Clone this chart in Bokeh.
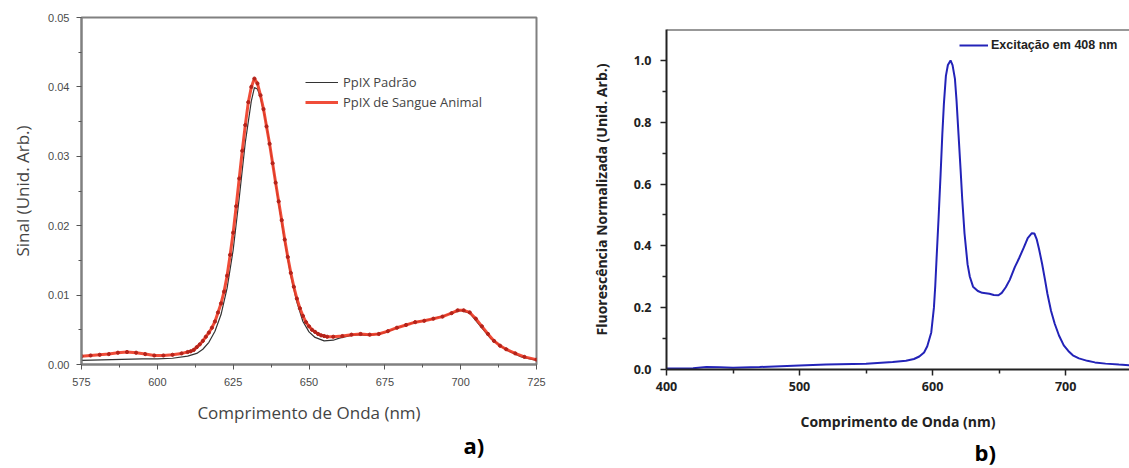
from bokeh.plotting import figure
from bokeh.layouts import row, column
from bokeh.models import (Legend, LegendItem, Span, FixedTicker, Range1d, Title,
                          NumeralTickFormatter)
from bokeh.embed import file_html
from bokeh.resources import INLINE

# ---------------- panel a) data ----------------
std_x = [575, 585, 595, 600, 605, 610, 613, 615, 617, 619, 621, 623, 625, 627, 629, 631, 632, 633,
         634, 636, 638, 640, 642, 644, 646, 648, 650, 652, 655, 658, 660, 665, 670, 675, 680, 685,
         690, 695, 700, 703, 706, 710, 715, 720, 725]
std_y = [0.0006, 0.0007, 0.0008, 0.0008, 0.0009, 0.0012, 0.0016, 0.0022, 0.0032, 0.0048, 0.0072,
         0.0110, 0.0165, 0.0240, 0.0320, 0.0380, 0.0399, 0.0397, 0.0385, 0.0345, 0.0290, 0.0232,
         0.0177, 0.0128, 0.0090, 0.0062, 0.0047, 0.0039, 0.0034, 0.0035, 0.0038, 0.0043, 0.0042,
         0.0046, 0.0054, 0.0061, 0.0065, 0.0071, 0.0078, 0.0074, 0.0058, 0.0037, 0.0021, 0.0011,
         0.0006]

blood_x = [575, 578, 581, 584, 587, 590, 593, 596, 599, 602, 605, 608, 610, 611,
           612, 613, 614, 615, 616, 617, 618, 619, 620, 621, 622, 623, 624, 625, 626, 627, 628,
           629, 630, 631, 632, 633, 634, 635, 636, 637, 638, 639, 640, 641, 642, 643, 644, 645,
           646, 647, 648, 649, 650, 651, 652, 653, 654, 655, 656,
           658, 661, 664, 667, 670, 673, 676, 679, 682, 685, 688, 691, 694, 697, 699, 701, 703,
           705, 707, 709, 711, 713, 715, 718, 721, 725]
blood_y = [0.0012, 0.0013, 0.0014, 0.0015, 0.0017, 0.0018, 0.0017, 0.0015, 0.0013, 0.0013, 0.0014,
           0.0016, 0.0018, 0.0019,
           0.0021, 0.0025, 0.0029, 0.0034, 0.0040, 0.0046, 0.0053, 0.0062, 0.0075, 0.0088, 0.0105,
           0.0128, 0.0158, 0.0190, 0.0228, 0.0268, 0.0308, 0.0345, 0.0378, 0.0400, 0.0412, 0.0405,
           0.0388, 0.0368, 0.0343, 0.0318, 0.0290, 0.0262, 0.0235, 0.0208, 0.0180, 0.0155, 0.0132,
           0.0112, 0.0095, 0.0081, 0.0070, 0.0061, 0.0055, 0.0050, 0.0047, 0.0044, 0.0042, 0.0041,
           0.0040,
           0.0040, 0.0041, 0.0043, 0.0044, 0.0043, 0.0044, 0.0048, 0.0053, 0.0057, 0.0061, 0.0063,
           0.0066, 0.0069, 0.0074, 0.0078, 0.0078, 0.0075, 0.0066, 0.0055, 0.0044, 0.0034, 0.0027,
           0.0022, 0.0016, 0.0011, 0.0007]

a_xticks = [575, 600, 625, 650, 675, 700, 725]
a_yticks = [0.00, 0.01, 0.02, 0.03, 0.04, 0.05]

# ---------------- panel b) data ----------------
exc_x = [400, 410, 420, 430, 440, 450, 470, 500, 520, 550, 570, 580, 586, 590, 593.6, 596, 599,
         601, 602, 603, 604.5, 606, 607.3, 608.5, 610, 611.5, 613.5, 615, 616.8, 618, 619.5, 621,
         622.3, 624, 626.3, 628, 630.4, 634, 637.3, 640, 642.7, 646, 649.5, 652, 655, 658, 661.8,
         665, 668.6, 671.5, 674.6, 676.5, 678.2, 680, 682.3, 684.5, 686.3, 689, 691.8, 695, 698.6,
         702, 705.4, 710, 716.3, 722, 730, 740, 748]
exc_y = [0.003, 0.003, 0.004, 0.008, 0.007, 0.006, 0.008, 0.013, 0.016, 0.019, 0.024, 0.028, 0.034,
         0.042, 0.055, 0.075, 0.12, 0.20, 0.27, 0.36, 0.49, 0.63, 0.76, 0.86, 0.95, 0.985, 1.0,
         0.985, 0.94, 0.87, 0.76, 0.65, 0.55, 0.44, 0.34, 0.30, 0.268, 0.254, 0.248, 0.247, 0.245,
         0.241, 0.24, 0.248, 0.266, 0.29, 0.331, 0.36, 0.395, 0.425, 0.441, 0.44, 0.422, 0.39,
         0.342, 0.29, 0.245, 0.19, 0.148, 0.11, 0.078, 0.06, 0.046, 0.036, 0.028, 0.023, 0.019,
         0.016, 0.014]

b_xticks = [400, 500, 600, 700]
b_yticks = [0.0, 0.2, 0.4, 0.6, 0.8, 1.0]

# ---------------- panel a) ----------------
pa = figure(width=560, height=468, output_backend="svg", toolbar_location=None,
            x_range=Range1d(575, 725), y_range=Range1d(0, 0.05),
            min_border_left=81, min_border_right=24, min_border_top=17, min_border_bottom=104)
pa.grid.visible = False
pa.outline_line_color = "#808080"
pa.outline_line_width = 2

GRAY = "#555555"
for ax in (pa.xaxis[0], pa.yaxis[0]):
    ax.axis_line_color = "#808080"
    ax.axis_line_width = 2
    ax.major_tick_line_color = GRAY
    ax.minor_tick_line_color = GRAY
    ax.major_tick_out = 5
    ax.major_tick_in = 0
    ax.minor_tick_out = 3
    ax.minor_tick_in = 0
    ax.major_label_text_font = "Liberation Sans"
    ax.major_label_text_font_size = "11px"
    ax.major_label_text_color = "#4a4a4a"
    ax.axis_label_text_font = "Open Sans"
    ax.axis_label_text_font_size = "17px"
    ax.axis_label_text_font_style = "normal"
    ax.axis_label_text_color = "#444444"

pa.xaxis.ticker = FixedTicker(ticks=a_xticks, minor_ticks=[587.5, 612.5, 637.5, 662.5, 687.5, 712.5])
pa.yaxis.ticker = FixedTicker(ticks=a_yticks, minor_ticks=[0.005, 0.015, 0.025, 0.035, 0.045])
pa.yaxis.formatter = NumeralTickFormatter(format="0.00")
pa.xaxis.axis_label = "Comprimento de Onda (nm)"
pa.yaxis.axis_label = "Sinal (Unid. Arb.)"
pa.xaxis.major_label_standoff = 8
pa.yaxis.major_label_standoff = 7
pa.xaxis.axis_label_standoff = 12
pa.yaxis.axis_label_standoff = 11

r_std = pa.line(std_x, std_y, line_color="#333333", line_width=1.2)
r_blood = pa.line(blood_x, blood_y, line_color="#ee3a24", line_width=3, line_alpha=0.9)
pa.scatter(blood_x, blood_y, size=3.2, fill_color="#b5231a", line_color="#b5231a")

leg_a = Legend(items=[LegendItem(label="PpIX Padrão", renderers=[r_std]),
                      LegendItem(label="PpIX de Sangue Animal", renderers=[r_blood])],
               location=(224, 252), border_line_color=None, background_fill_alpha=0,
               padding=0, margin=0, spacing=0, glyph_width=33, glyph_height=20, label_height=20,
               label_standoff=5, label_text_font="Open Sans", label_text_font_size="13px",
               label_text_color="#444444")
pa.add_layout(leg_a)
pa.add_layout(Title(text="a)", align="left", offset=382, text_font="Open Sans",
                    text_font_size="22px", text_font_style="bold", text_color="#000000",
                    standoff=3), "below")

# ---------------- panel b) ----------------
pb = figure(width=569, height=468, output_backend="svg", toolbar_location=None,
            x_range=Range1d(400, 748), y_range=Range1d(0, 1.1),
            min_border_left=106, min_border_right=0, min_border_top=29, min_border_bottom=99)
pb.grid.visible = False
pb.outline_line_color = None

for ax in (pb.xaxis[0], pb.yaxis[0]):
    ax.axis_line_color = "#222222"
    ax.axis_line_width = 2
    ax.major_tick_line_color = "#222222"
    ax.minor_tick_line_color = "#222222"
    ax.major_tick_line_width = 1.5
    ax.minor_tick_line_width = 1.5
    ax.major_tick_out = 6
    ax.major_tick_in = 0
    ax.minor_tick_out = 4
    ax.minor_tick_in = 0
    ax.major_label_text_font = "Open Sans"
    ax.major_label_text_font_size = "12.5px"
    ax.major_label_text_font_style = "bold"
    ax.major_label_text_color = "#222222"
    ax.axis_label_text_font = "Open Sans"
    ax.axis_label_text_font_size = "14px"
    ax.axis_label_text_font_style = "bold"
    ax.axis_label_text_color = "#222222"

pb.xaxis.ticker = FixedTicker(ticks=b_xticks, minor_ticks=[450, 550, 650])
pb.yaxis.ticker = FixedTicker(ticks=b_yticks, minor_ticks=[0.1, 0.3, 0.5, 0.7, 0.9])
pb.yaxis.formatter = NumeralTickFormatter(format="0.0")
pb.xaxis.axis_label = "Comprimento de Onda (nm)"
pb.yaxis.axis_label = "Fluorescência Normalizada (Unid. Arb.)"
pb.xaxis.major_label_standoff = 6
pb.yaxis.major_label_standoff = 9
pb.xaxis.axis_label_standoff = 18
pb.yaxis.axis_label_standoff = 20

pb.add_layout(Span(location=1.1, dimension="width", line_color="#333333", line_width=2))

r_exc = pb.line(exc_x, exc_y, line_color="#2323b8", line_width=2)
leg_b = Legend(items=[LegendItem(label="Excitação em 408 nm", renderers=[r_exc])],
               location=(293, 316), border_line_color=None, background_fill_alpha=0,
               padding=0, margin=0, spacing=0, glyph_width=29, glyph_height=16, label_height=16,
               label_standoff=3, label_text_font="Liberation Sans", label_text_font_size="12.5px",
               label_text_font_style="bold", label_text_color="#222222")
pb.add_layout(leg_b)
pb.add_layout(Title(text="b)", align="left", offset=308, text_font="Open Sans",
                    text_font_size="22px", text_font_style="bold", text_color="#000000",
                    standoff=3), "below")

layout = row(column(pa), column(pb))
open("out.html", "w").write(file_html(layout, INLINE))
